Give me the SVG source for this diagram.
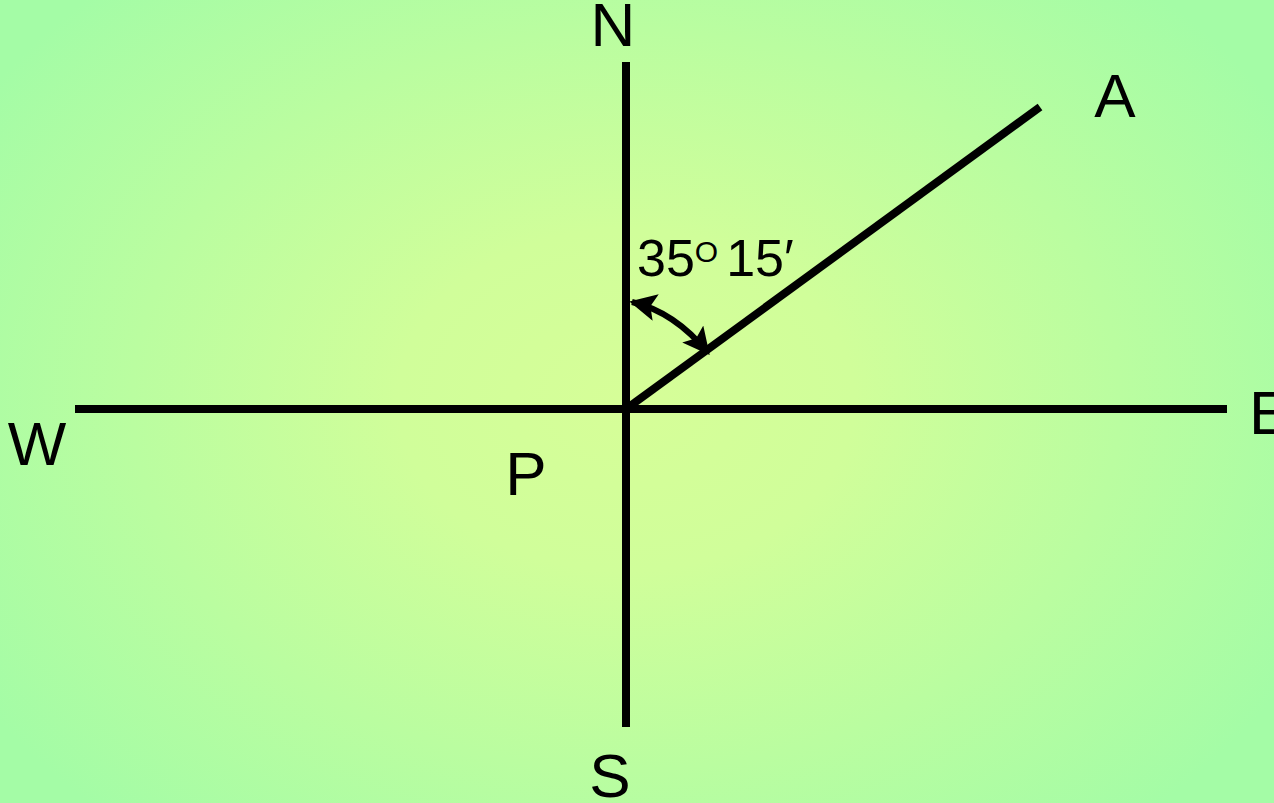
<svg xmlns="http://www.w3.org/2000/svg" width="1274" height="803" viewBox="0 0 1274 803">
<defs>
<radialGradient id="bg" cx="626" cy="400" r="760" gradientUnits="userSpaceOnUse" gradientTransform="translate(626 400) scale(1 0.75) translate(-626 -400)">
<stop offset="0" stop-color="#d6fe98"/>
<stop offset="0.3" stop-color="#d0fe9a"/>
<stop offset="1" stop-color="#a4fca6"/>
</radialGradient>
<marker id="ah" viewBox="0 0 10 10" refX="9" refY="5" markerWidth="4.5" markerHeight="4.5" orient="auto-start-reverse" markerUnits="strokeWidth">
<path d="M0,0 L10,5 L0,10 L2,5 z" fill="#000"/>
</marker>
<style>
.ln{stroke:#000;stroke-width:8;fill:none}
.lbl{font-family:"Liberation Sans",Arial,sans-serif;font-size:62px;fill:#000}
.ang{font-family:"Liberation Sans",Arial,sans-serif;font-size:52px;fill:#000}
</style>
</defs>
<rect width="1274" height="803" fill="url(#bg)"/>
<g id="connectors">
<line class="ln" x1="626" y1="62" x2="626" y2="727"/>
<line class="ln" x1="75" y1="409" x2="1227" y2="409"/>
<line class="ln" x1="626" y1="409" x2="1040" y2="107"/>
<path d="M632,302 Q675,312 708,353" stroke="#000" stroke-width="6" fill="none" marker-start="url(#ah)" marker-end="url(#ah)"/>
</g>
<g id="N"><text class="lbl" x="613" y="46" text-anchor="middle" font-size="52">N</text></g>
<g id="S"><text class="lbl" x="610" y="797" text-anchor="middle">S</text></g>
<g id="W"><text class="lbl" x="37" y="465" text-anchor="middle">W</text></g>
<g id="E"><text class="lbl" x="1249" y="434">E</text></g>
<g id="A"><text class="lbl" x="1115" y="117" text-anchor="middle">A</text></g>
<g id="P"><text class="lbl" x="526" y="495" text-anchor="middle">P</text></g>
<g id="angle"><text class="ang" x="637" y="276">35<tspan font-size="30" dy="-14">O</tspan><tspan dx="8" dy="14">15′</tspan></text></g>
</svg>
